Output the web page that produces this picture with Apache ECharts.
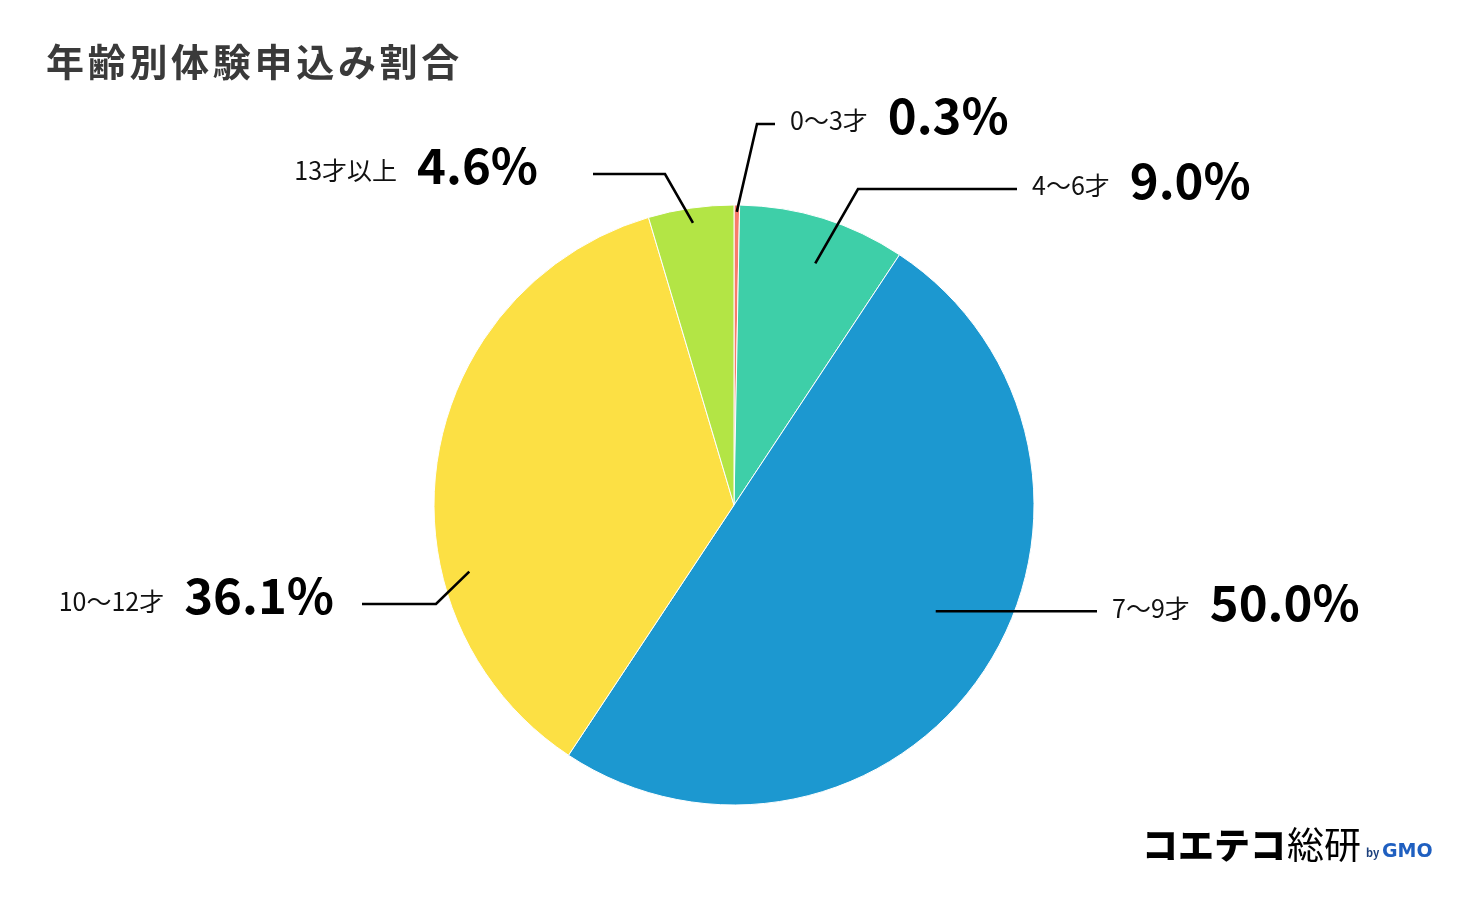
<!DOCTYPE html>
<html>
<head>
<meta charset="utf-8">
<script src="https://cdn.jsdelivr.net/npm/echarts@6/dist/echarts.min.js"></script>
<style>
html,body{margin:0;padding:0;background:#fff;}
#chart{width:1471px;height:901px;}
</style>
</head>
<body>
<div id="chart"></div>
<script>
// ---- data ----
const titleText = '年齢別体験申込み割合';
const categories = ['0～3才', '4～6才', '7～9才', '10～12才', '13才以上'];
const values = [0.3, 9.0, 50.0, 36.1, 4.6];
const colors = ['#f87c6b', '#3ecfa8', '#1c98d0', '#fce044', '#b3e545'];

// ---- layout ----
const CX = 734, CY = 505, R = 300;
const FONT = '"Noto Sans CJK JP", "Noto Sans", sans-serif';
// leader-line layout per slice: start radius fraction, angle offset (deg),
// elbow & end offsets relative to pie center (elbow null = straight), side, label gap
const leaders = [
  { r: 0.977, da: 0,     elbow: [23, -381],  end: [41, -381],  side: 'right', gap: 15 },
  { r: 0.85,  da: 1.3,   elbow: [124, -316], end: [283, -316], side: 'right', gap: 15 },
  { r: 0.76,  da: -5.7,  elbow: null,        end: [363, null], side: 'right', gap: 15 },
  { r: 0.91,  da: -22.6, elbow: [-298, 99],  end: [-372, 99],  side: 'left',  gap: 28 },
  { r: 0.95,  da: 0,     elbow: [-69, -331], end: [-141, -331], side: 'left', gap: 55 }
];

const total = values.reduce((a, b) => a + b, 0);
const midAngles = [];
{
  let acc = 0;
  values.forEach(v => { midAngles.push((acc + v / 2) / total * 360); acc += v; });
}

// title drawn as spaced characters
const titleGraphics = Array.from(titleText).map((ch, k) => ({
  type: 'text',
  style: {
    text: ch, x: 46 + k * 41.7, y: 62, verticalAlign: 'middle',
    font: '700 38px ' + FONT, fill: '#3a3a3a'
  }
}));

const pieData = categories.map((c, i) => ({ name: c, value: values[i], itemStyle: { color: colors[i] } }));

const chart = echarts.init(document.getElementById('chart'));
const option = {
  backgroundColor: '#ffffff',
  animation: false,
  series: [{
    type: 'pie',
    name: titleText,
    z: 2,
    center: [CX, CY],
    radius: R,
    startAngle: 90,
    clockwise: true,
    avoidLabelOverlap: false,
    itemStyle: { borderColor: '#ffffff', borderWidth: 1 },
    data: pieData,
    label: { show: false },
    labelLine: { show: false }
  }, {
    // transparent overlay carrying labels so leader lines sit above the slices
    type: 'pie',
    z: 5,
    silent: true,
    center: [CX, CY],
    radius: R,
    startAngle: 90,
    clockwise: true,
    avoidLabelOverlap: false,
    itemStyle: { color: 'rgba(0,0,0,0)', borderWidth: 0 },
    data: categories.map((c, i) => ({ name: c, value: values[i] })),
    label: {
      show: true,
      position: 'outside',
      formatter: p => '{n|' + p.name + '}{v|' + p.value.toFixed(1) + '%}',
      rich: {
        n: { fontSize: 25, color: '#111', fontFamily: FONT, padding: [0, 20, 6, 0], verticalAlign: 'bottom' },
        v: { fontSize: 49, fontWeight: 'bold', color: '#000', fontFamily: FONT, verticalAlign: 'bottom' }
      }
    },
    labelLine: { show: true, showAbove: true, lineStyle: { color: '#000', width: 2.6 }, smooth: false },
    labelLayout: function (p) {
      const i = p.dataIndex;
      const L = leaders[i];
      const a = (midAngles[i] + L.da) * Math.PI / 180;
      const sx = CX + Math.sin(a) * R * L.r;
      const sy = CY - Math.cos(a) * R * L.r;
      let pts, ex, ey;
      if (L.elbow) {
        ex = CX + L.end[0]; ey = CY + L.end[1];
        pts = [[sx, sy], [CX + L.elbow[0], CY + L.elbow[1]], [ex, ey]];
      } else {
        ex = CX + L.end[0]; ey = sy;
        pts = [[sx, sy], [(sx + ex) / 2, sy], [ex, ey]];
      }
      const right = L.side === 'right';
      return {
        x: right ? ex + L.gap : ex - L.gap,
        y: ey - 9,
        align: right ? 'left' : 'right',
        verticalAlign: 'middle',
        labelLinePoints: pts
      };
    }
  }],
  graphic: titleGraphics.concat([
    { type: 'text', style: { text: 'コエテコ', x: 1142, y: 845, verticalAlign: 'middle', font: '900 36px ' + FONT, fill: '#000' } },
    { type: 'text', style: { text: '総研', x: 1287, y: 845, verticalAlign: 'middle', font: '400 37px ' + FONT, fill: '#000' } },
    { type: 'text', style: { text: 'by', x: 1366, y: 853, verticalAlign: 'middle', font: '700 11px ' + FONT, fill: '#1b3f7c' } },
    { type: 'text', style: { text: 'GMO', x: 1382, y: 852, verticalAlign: 'middle', font: '700 19px "DejaVu Sans", sans-serif', fill: '#1f5fc0' } }
  ])
};
chart.setOption(option);
</script>
</body>
</html>
